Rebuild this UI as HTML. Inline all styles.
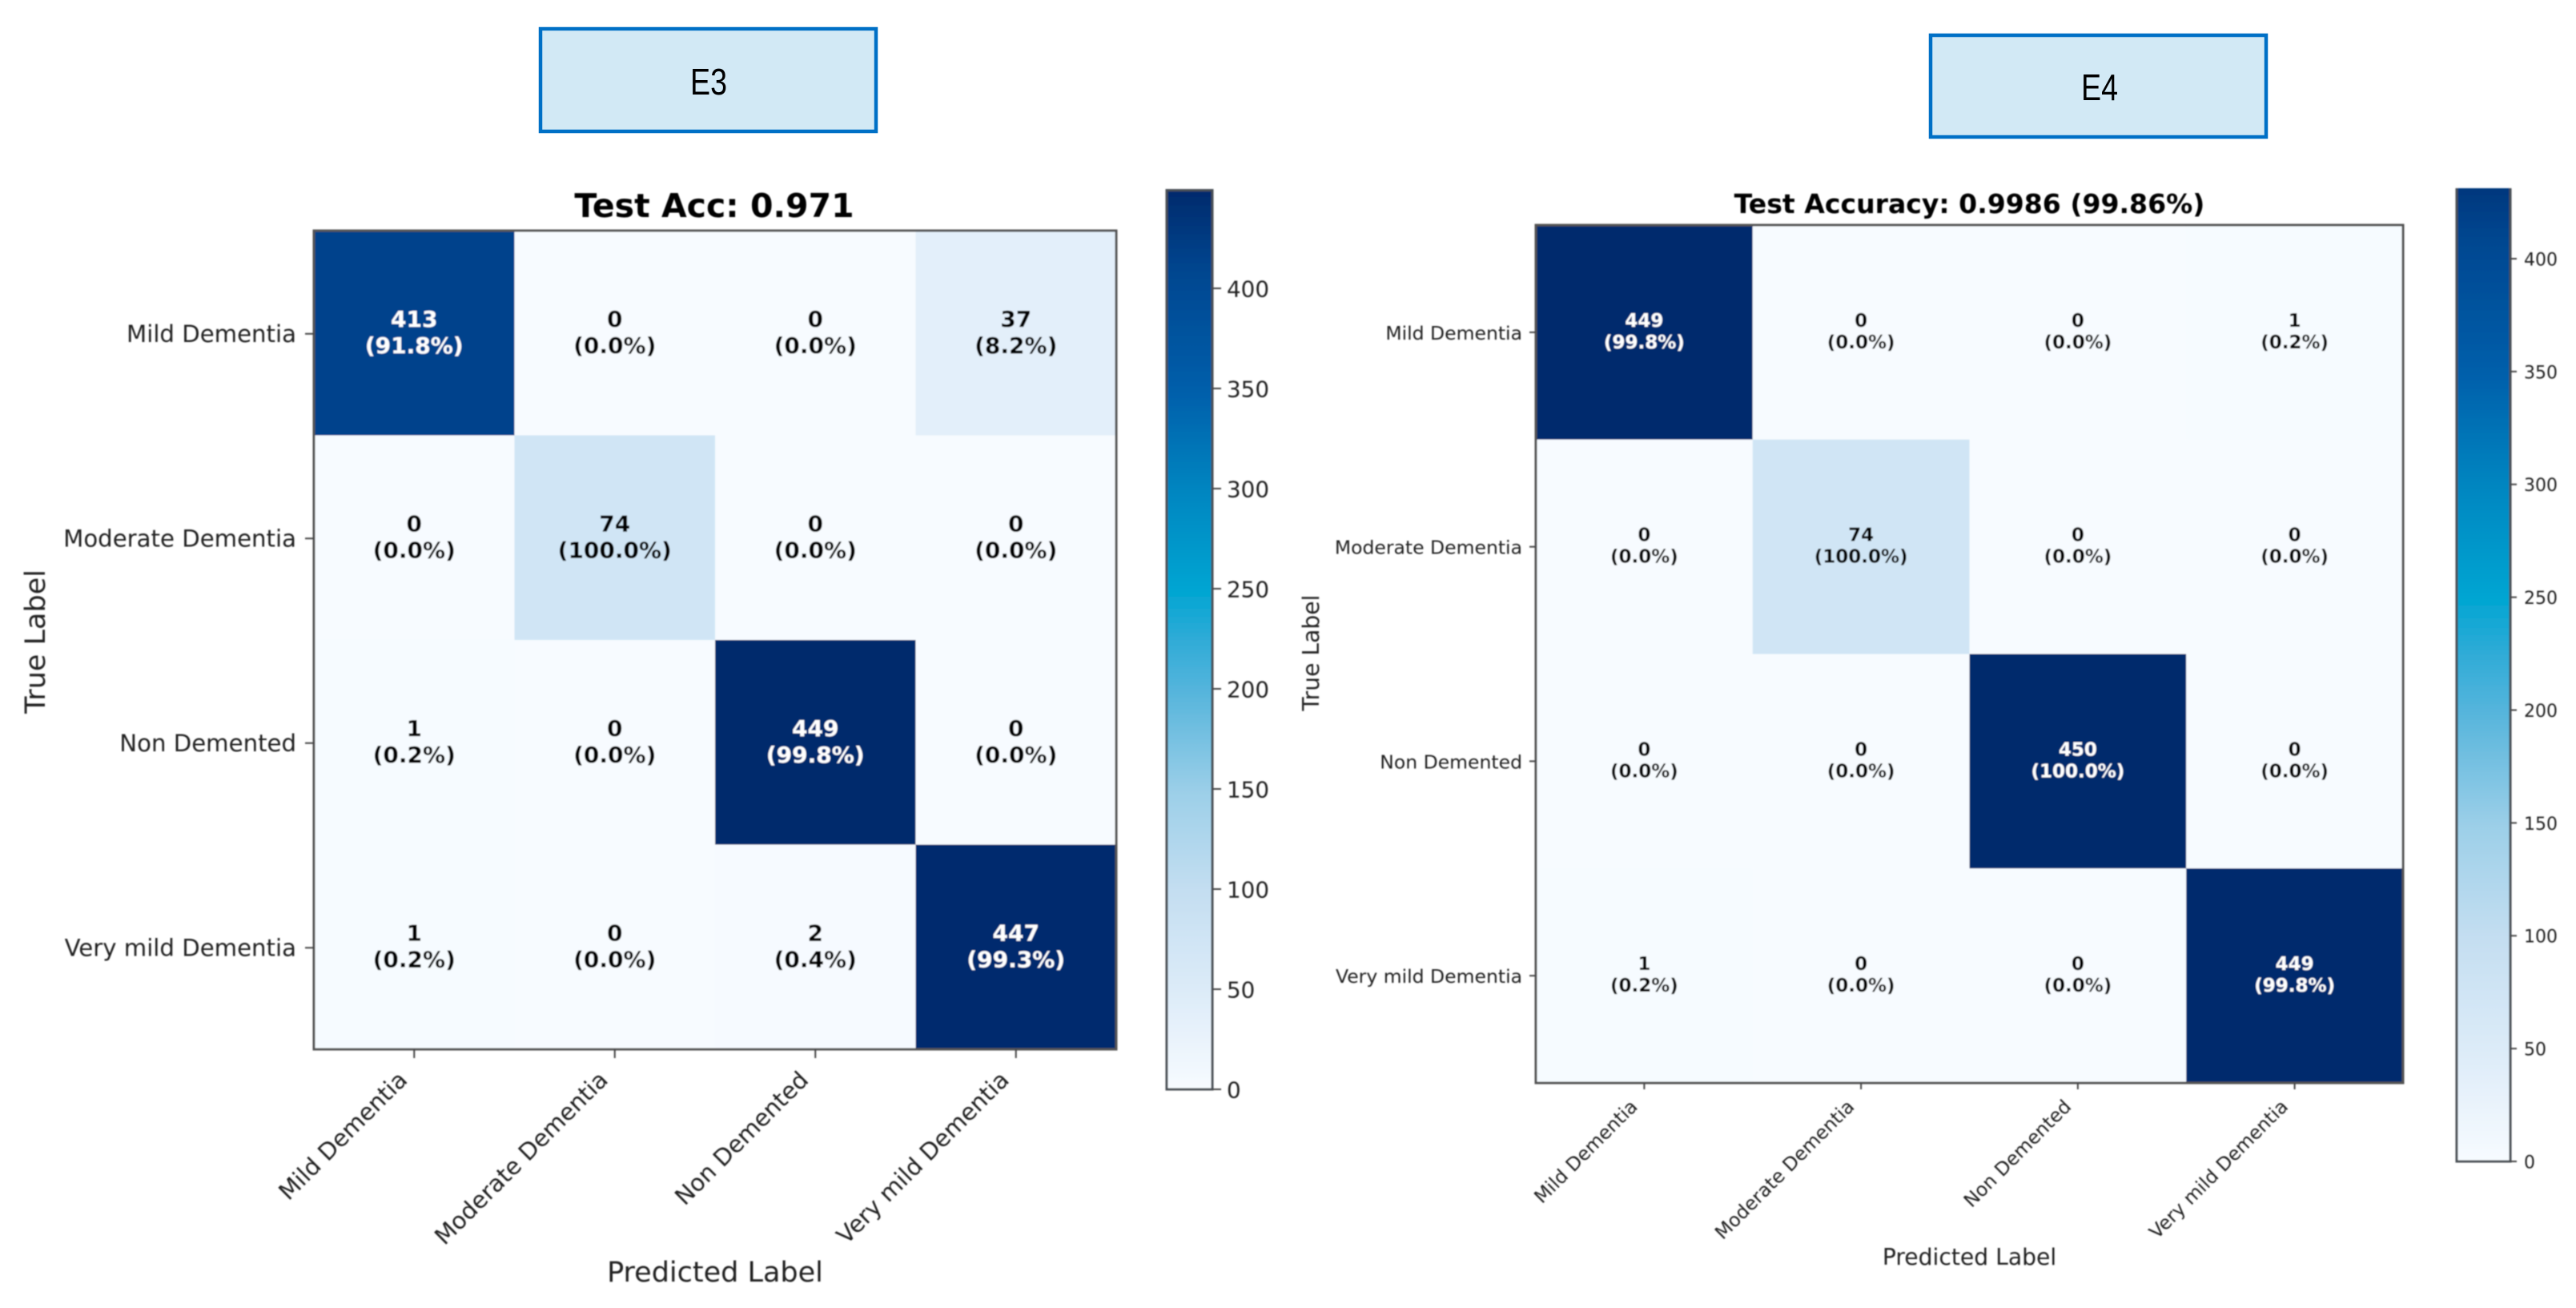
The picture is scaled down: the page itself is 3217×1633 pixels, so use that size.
<!DOCTYPE html>
<html lang="en">
<head>
<meta charset="utf-8">
<title>E3 and E4 confusion matrices</title>
<style>
html,body{margin:0;padding:0;background:#fff;}
svg{display:block;}
text{font-family:"DejaVu Sans","Liberation Sans",sans-serif;}
</style>
</head>
<body>
<svg id="figure" xmlns="http://www.w3.org/2000/svg" width="3217" height="1633" viewBox="0 0 3217 1633">
  <defs>
    <filter id="soft" filterUnits="userSpaceOnUse" x="0" y="0" width="3217" height="1633"><feGaussianBlur stdDeviation="0.75"/></filter>
  </defs>
  <rect x="0" y="0" width="3217" height="1633" fill="#ffffff"/>
  <g>
    <rect x="675" y="36" width="419" height="128" fill="#d2e9f5" stroke="#0070c6" stroke-width="4.5"/>
    <text x="885" y="118" text-anchor="middle" font-size="46" textLength="46" lengthAdjust="spacingAndGlyphs" fill="#000" style="font-family:'Liberation Sans',sans-serif">E3</text>
  </g>
  <g>
    <rect x="2411" y="44" width="419" height="127" fill="#d2e9f5" stroke="#0070c6" stroke-width="4.5"/>
    <text x="2622" y="125" text-anchor="middle" font-size="46" textLength="46" lengthAdjust="spacingAndGlyphs" fill="#000" style="font-family:'Liberation Sans',sans-serif">E4</text>
  </g>
  <g id="charts" filter="url(#soft)"></g>
</svg>
<script>
const classLabels = ['Mild Dementia', 'Moderate Dementia', 'Non Demented', 'Very mild Dementia'];
const e3Title = 'Test Acc: 0.971';
const e4Title = 'Test Accuracy: 0.9986 (99.86%)';
const e3Values = [
  [413, 0, 0, 37],
  [0, 74, 0, 0],
  [1, 0, 449, 0],
  [1, 0, 2, 447]
];
const e4Values = [
  [449, 0, 0, 1],
  [0, 74, 0, 0],
  [0, 0, 450, 0],
  [1, 0, 0, 449]
];
const e3ColorbarTicks = [0, 50, 100, 150, 200, 250, 300, 350, 400];
const e4ColorbarTicks = [0, 50, 100, 150, 200, 250, 300, 350, 400];
const colormapPositions = [0, 0.11, 0.22, 0.33, 0.44, 0.5, 0.555, 0.667, 0.778, 0.89, 0.92, 1];
const colormapColors = ['#f7fbff', '#dcebf8', '#c4def1', '#9ccfe8', '#57b5dc', '#2fabd7', '#00a5d2', '#0085c0', '#005eaa', '#004a94', '#00438c', '#002a6c'];

const SVGNS = 'http://www.w3.org/2000/svg';
const root = document.getElementById('charts');

function make(tag, parent, props) {
  const el = document.createElementNS(SVGNS, tag);
  for (const k in props) el.setAttribute(k, props[k]);
  parent.appendChild(el);
  return el;
}
function hexToRgb(h) {
  return [parseInt(h.slice(1, 3), 16), parseInt(h.slice(3, 5), 16), parseInt(h.slice(5, 7), 16)];
}
function colormap(t) {
  t = Math.max(0, Math.min(1, t));
  for (let i = 1; i < colormapPositions.length; i++) {
    if (t <= colormapPositions[i]) {
      const f = (t - colormapPositions[i - 1]) / (colormapPositions[i] - colormapPositions[i - 1]);
      const a = hexToRgb(colormapColors[i - 1]);
      const b = hexToRgb(colormapColors[i]);
      return 'rgb(' + a.map((v, j) => Math.round(v + (b[j] - v) * f)).join(',') + ')';
    }
  }
  return colormapColors[colormapColors.length - 1];
}

function drawChart(id, title, values, cbTicks, g) {
  const group = make('g', root, {});
  
  

  const n = values.length;
  const vmax = Math.max.apply(null, values.flat());
  const xScale = c => g.left + (g.right - g.left) * c / n;
  const yScale = r => g.top + (g.bottom - g.top) * r / n;
  const cbScale = v => g.cbBottom - v * g.cbUnit;

  values.forEach((row, r) => {
    row.forEach((v, c) => {
      const cell = make('rect', group, {
        x: xScale(c), y: yScale(r),
        width: xScale(c + 1) - xScale(c), height: yScale(r + 1) - yScale(r),
        fill: colormap(v / vmax)
      });
      
      
    });
  });

  values.forEach((row, r) => {
    const rowTotal = row.reduce((a, b) => a + b, 0);
    row.forEach((v, c) => {
      const cx = (xScale(c) + xScale(c + 1)) / 2;
      const cy = (yScale(r) + yScale(r + 1)) / 2;
      const color = v > vmax / 2 ? '#ffffff' : '#000000';
      const count = make('text', group, {
        x: cx, y: cy + g.annotY1, 'text-anchor': 'middle',
        'font-size': g.annotSize, 'font-weight': 'bold', fill: color
      });
      count.textContent = String(v);
      
      
      const pct = make('text', group, {
        x: cx, y: cy + g.annotY2, 'text-anchor': 'middle',
        'font-size': g.annotSize, 'font-weight': 'bold', fill: color
      });
      pct.textContent = '(' + (100 * v / rowTotal).toFixed(1) + '%)';
      
      
    });
  });

  const frame = make('rect', group, {
    x: g.left, y: g.top, width: g.right - g.left, height: g.bottom - g.top,
    fill: 'none', stroke: '#555555', 'stroke-width': g.frameWidth
  });
  
  

  const titleEl = make('text', group, {
    x: (g.left + g.right) / 2 + g.titleDx, y: g.titleY, 'text-anchor': 'middle',
    'font-size': g.titleSize, 'font-weight': 'bold', fill: '#000000'
  });
  titleEl.textContent = title;
  
  

  classLabels.forEach((label, i) => {
    const cy = (yScale(i) + yScale(i + 1)) / 2;
    const yTick = make('line', group, {
      x1: g.left - g.tickLen, x2: g.left, y1: cy + g.yTickShift, y2: cy + g.yTickShift,
      stroke: '#444444', 'stroke-width': 2
    });
    
    
    const yLabel = make('text', group, {
      x: g.left - g.yLabelGap, y: cy + g.yLabelDy, 'text-anchor': 'end',
      'font-size': g.tickSize, fill: '#202020'
    });
    yLabel.textContent = label;
    
    

    const cx = (xScale(i) + xScale(i + 1)) / 2;
    const xTick = make('line', group, {
      x1: cx, x2: cx, y1: g.bottom, y2: g.bottom + g.tickLen,
      stroke: '#444444', 'stroke-width': 2
    });
    
    
    const ax = cx + g.xLabelDx;
    const ay = g.bottom + g.xLabelDy;
    const xLabel = make('text', group, {
      x: ax, y: ay, 'text-anchor': 'end', 'font-size': g.tickSize, fill: '#202020',
      transform: 'rotate(-45 ' + ax + ' ' + ay + ')'
    });
    xLabel.textContent = label;
    
    
  });

  const xAxisTitle = make('text', group, {
    x: (g.left + g.right) / 2, y: g.xTitleY, 'text-anchor': 'middle',
    'font-size': g.axisTitleSize, fill: '#202020'
  });
  xAxisTitle.textContent = 'Predicted Label';
  
  

  const yAxisTitle = make('text', group, {
    x: g.yTitleX, y: g.yTitleY, 'text-anchor': 'middle',
    'font-size': g.axisTitleSize, fill: '#202020',
    transform: 'rotate(-90 ' + g.yTitleX + ' ' + g.yTitleY + ')'
  });
  yAxisTitle.textContent = 'True Label';
  
  

  const defs = document.querySelector('defs');
  const grad = make('linearGradient', defs, {
    id: id + '-cb-gradient', gradientUnits: 'userSpaceOnUse',
    x1: 0, x2: 0, y1: cbScale(0), y2: cbScale(vmax)
  });
  colormapPositions.forEach((p, i) => {
    make('stop', grad, { offset: p, 'stop-color': colormapColors[i] });
  });
  const cbTop = Math.max(g.cbClipTop, cbScale(vmax));
  const cbar = make('rect', group, {
    x: g.cbLeft, y: cbTop, width: g.cbRight - g.cbLeft, height: g.cbBottom - cbTop,
    fill: 'url(#' + id + '-cb-gradient)'
  });
  
  

  const cbFrame = make('path', group, {
    d: 'M' + g.cbLeft + ' ' + cbTop + 'V' + g.cbBottom + 'H' + g.cbRight + 'V' + cbTop + (g.cbTopEdge ? 'Z' : ''),
    fill: 'none', stroke: '#4a4f55', 'stroke-width': g.frameWidth
  });
  
  

  cbTicks.forEach(v => {
    const cbTick = make('line', group, {
      x1: g.cbRight, x2: g.cbRight + g.cbTickLen, y1: cbScale(v), y2: cbScale(v),
      stroke: '#444444', 'stroke-width': 2
    });
    
    
    const cbLabel = make('text', group, {
      x: g.cbRight + g.cbLabelGap, y: cbScale(v) + g.cbSize * 0.36 + 0.5,
      'font-size': g.cbSize, fill: '#202020'
    });
    cbLabel.textContent = String(v);
    
    
  });
}

drawChart('e3', e3Title, e3Values, e3ColorbarTicks, {
  left: 392, right: 1394, top: 288, bottom: 1310, frameWidth: 3,
  annotSize: 28, annotY1: -8, annotY2: 25,
  titleSize: 41, titleDx: -1, titleY: 271,
  tickSize: 29.2, tickLen: 11, yTickShift: 1, yLabelGap: 22, yLabelDy: 11,
  xLabelDx: -7, xLabelDy: 40,
  axisTitleSize: 35, xTitleY: 1600, yTitleX: 56, yTitleY: 801,
  cbLeft: 1457, cbRight: 1514, cbBottom: 1360, cbUnit: 2.5, cbClipTop: 0, cbTopEdge: true,
  cbTickLen: 11, cbLabelGap: 18, cbSize: 27.8
});
drawChart('e4', e4Title, e4Values, e4ColorbarTicks, {
  left: 1918, right: 3001, top: 281, bottom: 1352, frameWidth: 3,
  annotSize: 23, annotY1: -7, annotY2: 20,
  titleSize: 33.1, titleDx: 0, titleY: 266,
  tickSize: 23.5, tickLen: 8, yTickShift: 0, yLabelGap: 17, yLabelDy: 9,
  xLabelDx: -7, xLabelDy: 31,
  axisTitleSize: 28.2, xTitleY: 1579, yTitleX: 1647, yTitleY: 815,
  cbLeft: 3068, cbRight: 3135, cbBottom: 1450, cbUnit: 2.8175, cbClipTop: 235, cbTopEdge: false,
  cbTickLen: 8, cbLabelGap: 17, cbSize: 22
});
</script>
</body>
</html>
